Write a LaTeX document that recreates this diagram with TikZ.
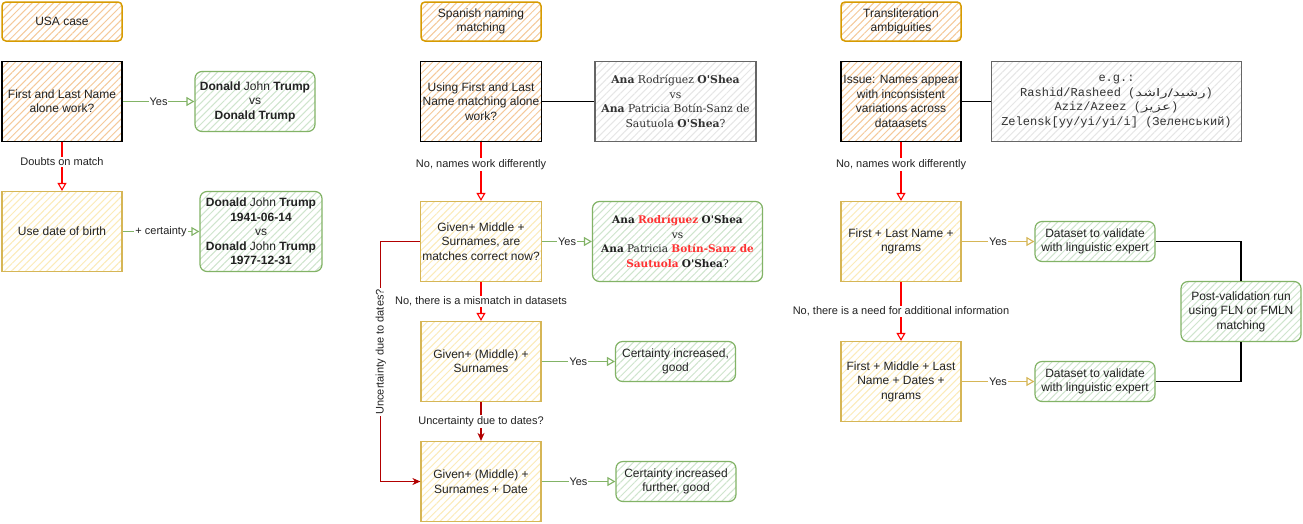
\documentclass[tikz,border=0pt]{standalone}
\usepackage{fontspec}
\setmainfont{Liberation Sans}
\newfontfamily\geofont{DejaVu Serif}
\newfontfamily\cnfont{Liberation Mono}
\newfontfamily\arabicfont[Script=Arabic]{DejaVu Sans}
\TeXXeTstate=1
\usetikzlibrary{patterns.meta,arrows.meta}
\definecolor{orS}{HTML}{D79B00}
\definecolor{orH}{HTML}{F5C99A}
\definecolor{yeS}{HTML}{D6B656}
\definecolor{yeH}{HTML}{FCEBB8}
\definecolor{grS}{HTML}{82B366}
\definecolor{grH}{HTML}{CFE5CD}
\definecolor{gyS}{HTML}{666666}
\definecolor{gyH}{HTML}{E6E6E6}
\definecolor{rd}{HTML}{FF0000}
\definecolor{drd}{HTML}{B20000}
\definecolor{txt}{HTML}{222222}
\definecolor{gtxt}{HTML}{333333}
\definecolor{hl}{HTML}{FF3333}
\newcommand{\osh}{O\textquotesingle Shea}
\begin{document}
\begin{tikzpicture}[x=1pt,y=-1pt,
  base/.style={align=center, inner sep=2pt, text=txt, font=\fontsize{12}{14.4}\selectfont},
  hatch/.style={pattern={Lines[angle=45,distance=5pt,line width=1pt]}},
  titlebox/.style={base, hatch, pattern color=orH, draw=orS, line width=1.5pt, rounded corners=4pt, minimum width=120pt, minimum height=39pt},
  qbox/.style={base, hatch, pattern color=orH, draw=black, line width=1.3pt, minimum width=120pt, minimum height=80pt},
  ybox/.style={base, hatch, pattern color=yeH, draw=yeS, line width=1.2pt, minimum width=120pt, minimum height=80pt},
  gbox/.style={base, hatch, pattern color=grH, draw=grS, line width=1.2pt, rounded corners=7pt, minimum width=120pt, minimum height=40pt},
  greybox/.style={base, hatch, pattern color=gyH, draw=gyS, line width=1.2pt, minimum height=80pt, text=gtxt},
  lbl/.style={font=\fontsize{11}{13}\selectfont, fill=white, inner sep=1pt, text=txt},
  yesarrow/.style={draw=grS, line width=1.1pt, -{Triangle[open,length=8pt,width=9pt]}},
  yesyarrow/.style={draw=yeS, line width=1.1pt, -{Triangle[open,length=8pt,width=9pt]}},
  redarrow/.style={draw=rd, line width=1.1pt, -{Triangle[open,length=8pt,width=9pt]}},
  darkarrow/.style={draw=drd, line width=1.1pt, -{Stealth[length=8pt,width=7pt,inset=2.5pt]}},
  plainline/.style={draw=black, line width=1.1pt}
]
\fill[white] (0,0) rectangle (1303,523);
\useasboundingbox (0,0) rectangle (1303,523);

% ---------- USA case ----------
\node[titlebox] (usa) at (62,21.5) {USA case};
\node[qbox] (q1) at (62,101.5) {First and Last Name\\alone work?};
\node[gbox, minimum height=60pt] (g1) at (255,101.5) {\textbf{Donald} John \textbf{Trump}\\vs\\\textbf{Donald Trump}};
\node[ybox] (dob) at (62,231.5) {Use date of birth};
\node[gbox, minimum height=80pt, minimum width=122pt] (g2) at (261,231.5) {\textbf{Donald} John \textbf{Trump}\\\textbf{1941-06-14}\\vs\\\textbf{Donald} John \textbf{Trump}\\\textbf{1977-12-31}};

\draw[yesarrow] (q1) -- node[lbl]{Yes} (g1);
\draw[redarrow] (q1) -- node[lbl, pos=0.4]{Doubts on match} (dob);
\draw[yesarrow] (dob) -- node[lbl]{+ certainty} (g2);

% ---------- Spanish ----------
\node[titlebox] (spa) at (481,21.5) {Spanish naming\\matching};
\node[qbox] (q2) at (481,101.5) {Using First and Last\\Name matching alone\\work?};
\node[greybox, minimum width=161pt, font={\geofont\fontsize{10.8}{14.5}\selectfont}] (gy1) at (675.5,101.5) {\textbf{Ana} Rodríguez \textbf{\osh}\\vs\\\textbf{Ana} Patricia Botín-Sanz de\\Sautuola \textbf{\osh}?};
\node[ybox] (q3) at (481,241.5) {Given+ Middle +\\Surnames, are\\matches correct now?};
\node[gbox, minimum width=170pt, minimum height=80pt, font={\geofont\fontsize{10.5}{14.5}\selectfont}] (g3) at (677.5,241.5) {\textbf{Ana} \textcolor{hl}{\textbf{Rodríguez}} \textbf{\osh}\\vs\\\textbf{Ana} Patricia \textcolor{hl}{\textbf{Botín-Sanz de}}\\\textcolor{hl}{\textbf{Sautuola}} \textbf{\osh}?};
\node[ybox] (q4) at (481,361.5) {Given+ (Middle) +\\Surnames};
\node[gbox] (g4) at (675.5,361.5) {Certainty increased,\\good};
\node[ybox] (q5) at (481,481.5) {Given+ (Middle) +\\Surnames + Date};
\node[gbox] (g5) at (676,481.5) {Certainty increased\\further, good};

\draw[plainline] (q2) -- (gy1);
\draw[redarrow] (q2) -- node[lbl, pos=0.38]{No, names work differently} (q3);
\draw[yesarrow] (q3) -- node[lbl]{Yes} (g3);
\draw[redarrow] (q3) -- node[lbl]{No, there is a mismatch in datasets} (q4);
\draw[yesarrow] (q4) -- node[lbl]{Yes} (g4);
\draw[darkarrow] (q4) -- node[lbl]{Uncertainty due to dates?} (q5);
\draw[yesarrow] (q5) -- node[lbl]{Yes} (g5);
\draw[darkarrow] (q3.west) -- ++(-39,0) |- node[lbl, pos=0.23, rotate=90]{Uncertainty due to dates?} (q5.west);

% ---------- Transliteration ----------
\node[titlebox] (tra) at (901,21.5) {Transliteration\\ambiguities};
\node[qbox] (q6) at (901,101.5) {Issue: Names appear\\with inconsistent\\variations across\\dataasets};
\node[greybox, minimum width=250pt, font={\cnfont\fontsize{12}{14.6}\selectfont}] (gy2) at (1116.5,101.5) {e.g.:\\Rashid/Rasheed (\scalebox{1.45}[1]{\arabicfont\fontsize{10.5}{14.6}\selectfont\beginR رشيد/راشد\endR})\\Aziz/Azeez (\scalebox{1.45}[1]{\arabicfont\fontsize{10.5}{14.6}\selectfont\beginR عزيز\endR})\\Zelensk[yy/yi/yi/i] (Зеленський)};
\node[ybox] (q7) at (901,241.5) {First + Last Name +\\ngrams};
\node[ybox] (q8) at (901,381.5) {First + Middle + Last\\Name + Dates +\\ngrams};
\node[gbox] (d1) at (1095,241.5) {Dataset to validate\\with linguistic expert};
\node[gbox] (d2) at (1095,381.5) {Dataset to validate\\with linguistic expert};
\node[gbox, minimum height=60pt] (post) at (1241,311.5) {Post-validation run\\using FLN or FMLN\\matching};

\draw[plainline] (q6) -- (gy2);
\draw[redarrow] (q6) -- node[lbl, pos=0.38]{No, names work differently} (q7);
\draw[yesyarrow] (q7) -- node[lbl]{Yes} (d1);
\draw[redarrow] (q7) -- node[lbl]{No, there is a need for additional information} (q8);
\draw[yesyarrow] (q8) -- node[lbl]{Yes} (d2);
\draw[plainline] (d1.east) -| (post.north);
\draw[plainline] (d2.east) -| (post.south);
\end{tikzpicture}
\end{document}
